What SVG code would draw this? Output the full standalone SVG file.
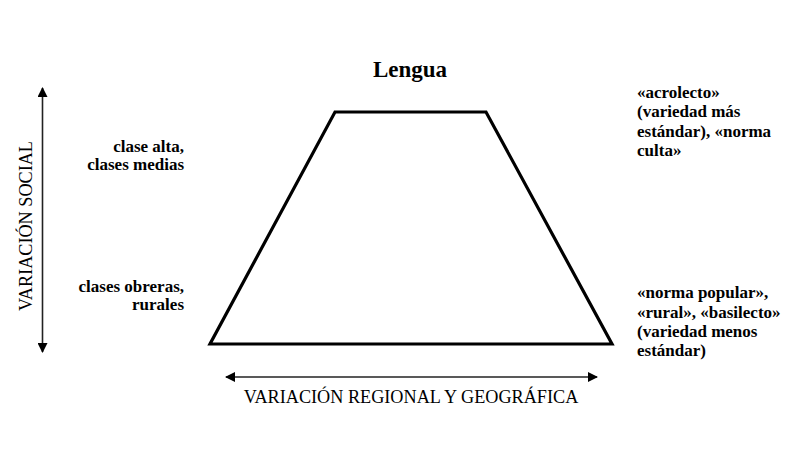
<svg xmlns="http://www.w3.org/2000/svg" width="800" height="467" viewBox="0 0 800 467">
<style>
text{font-family:'Liberation Serif',Tinos,'Times New Roman',serif;fill:#000}
.b{font-weight:bold;font-size:17px}
.ax{font-size:18.2px}
.ln{stroke:#222;stroke-width:1.6;fill:none}
</style>
<defs>
<marker id="ah" viewBox="0 0 10 10" refX="9" refY="5" markerWidth="10" markerHeight="10" markerUnits="userSpaceOnUse" orient="auto-start-reverse">
<path d="M0,0 L10,5 L0,10 z" fill="#000"/>
</marker>
</defs>
<rect width="800" height="467" fill="#fff"/>
<g id="connectors">
<line class="ln" x1="42.5" y1="88" x2="42.5" y2="352" marker-start="url(#ah)" marker-end="url(#ah)"/>
<line class="ln" x1="226" y1="377" x2="597" y2="377" marker-start="url(#ah)" marker-end="url(#ah)"/>
</g>
<g id="trapezoid">
<polygon points="335,112 486,112 612,344 210,344" fill="none" stroke="#000" stroke-width="3.2" stroke-linejoin="miter"/>
</g>
<g id="title">
<text x="410" y="77" text-anchor="middle" font-size="23" font-weight="bold">Lengua</text>
</g>
<g id="axis-social">
<text class="ax" transform="translate(32,226) rotate(-90)" text-anchor="middle">VARIACIÓN SOCIAL</text>
</g>
<g id="axis-regional">
<text class="ax" x="411" y="403" text-anchor="middle">VARIACIÓN REGIONAL Y GEOGRÁFICA</text>
</g>
<g id="label-high-left">
<text class="b" text-anchor="end"><tspan x="184" y="152">clase alta,</tspan><tspan x="184" y="170">clases medias</tspan></text>
</g>
<g id="label-low-left">
<text class="b" text-anchor="end"><tspan x="184" y="292">clases obreras,</tspan><tspan x="184" y="310">rurales</tspan></text>
</g>
<g id="label-high-right">
<text class="b"><tspan x="637" y="98">«acrolecto»</tspan><tspan x="637" y="117">(variedad más</tspan><tspan x="637" y="137">estándar), «norma</tspan><tspan x="637" y="156">culta»</tspan></text>
</g>
<g id="label-low-right">
<text class="b"><tspan x="637" y="298">«norma popular»,</tspan><tspan x="637" y="318">«rural», «basilecto»</tspan><tspan x="637" y="337">(variedad menos</tspan><tspan x="637" y="356">estándar)</tspan></text>
</g>
</svg>
